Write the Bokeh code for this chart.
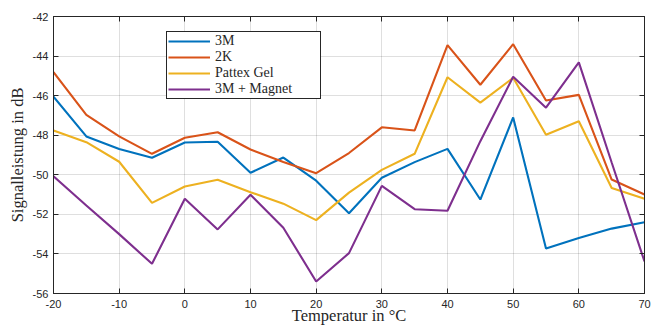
from bokeh.plotting import figure
from bokeh.models import LinearAxis, FixedTicker, Legend, LegendItem, Range1d
from bokeh.embed import file_html
from bokeh.resources import INLINE

temperature = [-20, -15, -10, -5, 0, 5, 10, 15, 20, 25, 30, 35, 40, 45, 50, 55, 60, 65, 70]
s_3m = [-46.05, -48.06, -48.7, -49.14, -48.37, -48.33, -49.9, -49.13, -50.3, -51.94, -50.15,
        -49.36, -48.69, -51.25, -47.1, -53.73, -53.2, -52.72, -52.4]
s_2k = [-44.81, -46.97, -48.06, -48.94, -48.13, -47.85, -48.72, -49.35, -49.92, -48.9, -47.6,
        -47.76, -43.45, -45.45, -43.4, -46.25, -45.96, -50.24, -51.0]
s_pattex = [-47.76, -48.35, -49.34, -51.42, -50.59, -50.25, -50.88, -51.46, -52.29, -50.9, -49.75,
            -48.94, -45.07, -46.35, -45.1, -47.98, -47.29, -50.67, -51.21]
s_magnet = [-50.08, -51.55, -53.0, -54.5, -51.21, -52.76, -51.01, -52.68, -55.39, -53.96, -50.56,
            -51.74, -51.82, -48.3, -45.05, -46.61, -44.32, -49.38, -54.38]

series_names = ["3M", "2K", "Pattex Gel", "3M + Magnet"]
series_values = [s_3m, s_2k, s_pattex, s_magnet]
series_colors = ["#0072BD", "#D95319", "#EDB120", "#7E2F8E"]

x_ticks = [-20, -10, 0, 10, 20, 30, 40, 50, 60, 70]
x_tick_labels = ["-20", "-10", "0", "10", "20", "30", "40", "50", "60", "70"]
y_ticks = [-56, -54, -52, -50, -48, -46, -44, -42]
y_tick_labels = ["-56", "-54", "-52", "-50", "-48", "-46", "-44", "-42"]
x_label = "Temperatur in °C"
y_label = "Signalleistung in dB"

AX = "#262626"
TICK_FONT = "Liberation Sans"
SERIF = "Liberation Serif"

p = figure(width=662, height=327, output_backend="svg", toolbar_location=None,
           x_range=Range1d(-20, 70), y_range=Range1d(-56, -42),
           min_border_left=53, min_border_right=18, min_border_top=16, min_border_bottom=34)
p.background_fill_color = "white"
p.border_fill_color = "white"
p.outline_line_color = AX
p.outline_line_width = 1

renderers = []
for name, vals, col in zip(series_names, series_values, series_colors):
    r = p.line(temperature, vals, line_color=col, line_width=2.1)
    renderers.append((name, r))

for ax, ticks, labels in ((p.xaxis[0], x_ticks, x_tick_labels), (p.yaxis[0], y_ticks, y_tick_labels)):
    ax.ticker = FixedTicker(ticks=ticks)
    ax.major_label_overrides = {t: l for t, l in zip(ticks, labels)}
    ax.axis_line_color = AX
    ax.major_tick_line_color = AX
    ax.major_tick_in = 5
    ax.major_tick_out = 0
    ax.minor_tick_line_color = None
    ax.major_label_text_font = TICK_FONT
    ax.major_label_text_font_size = "11px"
    ax.major_label_text_color = AX
    ax.axis_label_text_font = SERIF
    ax.axis_label_text_font_size = "16.5px"
    ax.axis_label_text_font_style = "normal"
    ax.axis_label_text_color = AX

p.xaxis[0].axis_label = x_label
p.xaxis[0].major_label_standoff = 6
p.xaxis[0].axis_label_standoff = -5
p.yaxis[0].axis_label = y_label
p.yaxis[0].major_label_standoff = 5
p.yaxis[0].axis_label_standoff = 3

top = LinearAxis(ticker=FixedTicker(ticks=x_ticks),
                 major_label_overrides={t: "" for t in x_ticks},
                 major_label_text_font_size="1px",
                 major_tick_in=5, major_tick_out=0, minor_tick_line_color=None,
                 axis_line_color=AX, major_tick_line_color=AX, major_label_standoff=0)
right = LinearAxis(ticker=FixedTicker(ticks=y_ticks),
                   major_label_overrides={t: "" for t in y_ticks},
                   major_label_text_font_size="1px",
                   major_tick_in=5, major_tick_out=0, minor_tick_line_color=None,
                   axis_line_color=AX, major_tick_line_color=AX, major_label_standoff=0)
p.add_layout(top, "above")
p.add_layout(right, "right")

for g in (p.xgrid[0], p.ygrid[0]):
    g.grid_line_color = "#262626"
    g.grid_line_alpha = 0.15
    g.grid_line_width = 1
p.xgrid[0].ticker = FixedTicker(ticks=x_ticks)
p.ygrid[0].ticker = FixedTicker(ticks=y_ticks)

legend = Legend(items=[LegendItem(label=n, renderers=[r]) for n, r in renderers],
                location=(113, 194))
legend.label_text_font = SERIF
legend.label_text_font_size = "14px"
legend.label_text_color = AX
legend.border_line_color = AX
legend.border_line_width = 1
legend.border_line_alpha = 1
legend.background_fill_color = "white"
legend.background_fill_alpha = 1
legend.padding = 1
legend.spacing = 0
legend.margin = 0
legend.label_height = 16
legend.glyph_height = 16
legend.glyph_width = 42
legend.label_standoff = 5
legend.label_width = 104
p.add_layout(legend, "center")

open("out.html", "w").write(file_html(p, INLINE))
